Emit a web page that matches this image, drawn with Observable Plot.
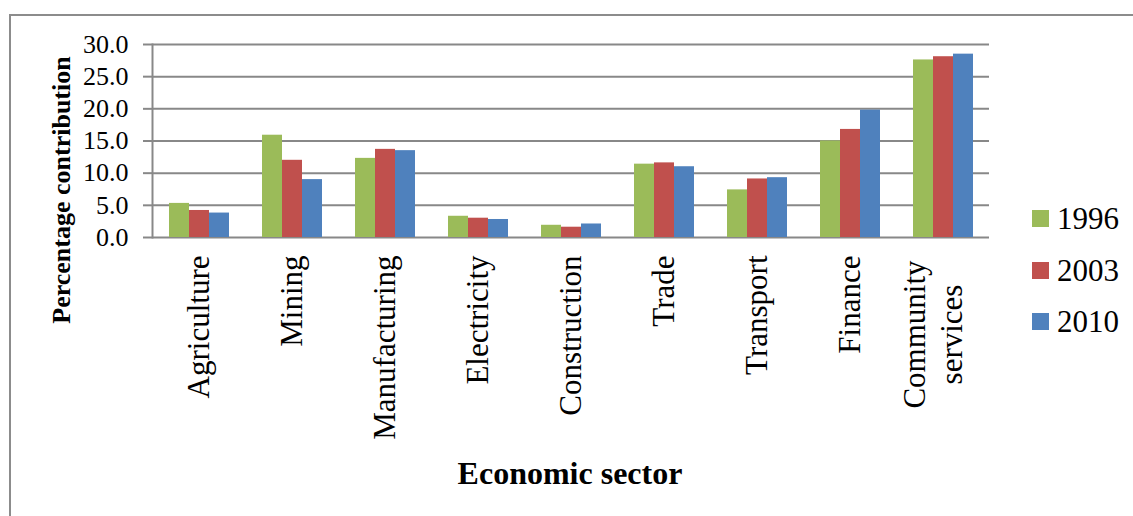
<!DOCTYPE html>
<html>
<head>
<meta charset="utf-8">
<script src="https://cdn.jsdelivr.net/npm/d3@7"></script>
<script src="https://cdn.jsdelivr.net/npm/@observablehq/plot@0.6"></script>
<style>
  html, body { margin: 0; padding: 0; background: #fff; }
  #wrap { position: relative; width: 1133px; height: 516px; overflow: hidden; font-family: "Liberation Serif", "Times New Roman", serif; }
  #border { position: absolute; left: 9px; top: 14px; right: -10px; bottom: -10px; border-left: 2px solid #8c8c8c; border-top: 2px solid #8c8c8c; }
  #chart { position: absolute; left: 0; top: 0; }
  .ytitle { position: absolute; left: 62px; top: 190px; transform: translate(-50%, -50%) rotate(-90deg); font-weight: bold; font-size: 26px; white-space: nowrap; color: #000; }
  .xtitle { position: absolute; left: 570px; top: 455px; transform: translateX(-50%); font-weight: bold; font-size: 32px; white-space: nowrap; color: #000; }
  #legend { position: absolute; left: 1032px; top: 193px; }
  .row { position: relative; height: 51.5px; line-height: 51.5px; font-size: 31px; color: #000; white-space: nowrap; font-family: "Liberation Serif", serif; }
  .sw { position: absolute; left: 0; top: 17px; width: 17px; height: 17px; }
  .lab { position: absolute; left: 25px; top: 0; }
</style>
</head>
<body>
<div id="wrap">
  <div id="border"></div>
  <div id="chart"></div>
  <div class="ytitle">Percentage contribution</div>
  <div class="xtitle">Economic sector</div>
  <div id="legend"></div>
</div>
<script>
const sectors = ["Agriculture", "Mining", "Manufacturing", "Electricity", "Construction", "Trade", "Transport", "Finance", "Community services"];
const sectorLabels = ["Agriculture", "Mining", "Manufacturing", "Electricity", "Construction", "Trade", "Transport", "Finance", "Community\nservices"];
const years = ["1996", "2003", "2010"];
const values1996 = [5.3, 15.9, 12.3, 3.3, 1.9, 11.4, 7.4, 15.0, 27.6];
const values2003 = [4.2, 12.0, 13.7, 3.0, 1.6, 11.6, 9.1, 16.8, 28.1];
const values2010 = [3.8, 9.0, 13.5, 2.8, 2.1, 11.0, 9.3, 19.8, 28.5];
const yTicks = [0, 5, 10, 15, 20, 25, 30];
const colors = ["#9BBB59", "#C0504D", "#4F81BD"];

const seriesValues = [values1996, values2003, values2010];
const data = [];
sectors.forEach((s, i) => {
  years.forEach((y, j) => data.push({sector: s, year: y, value: seriesValues[j][i]}));
});
const labelRows = sectors.map((s, i) => ({sector: s, label: sectorLabels[i]}));

const gridColor = "#888888";
const font = "Liberation Serif";

const chart = Plot.plot({
  width: 1133,
  height: 516,
  marginLeft: 152,
  marginRight: 144,
  marginTop: 44,
  marginBottom: 279,
  style: {fontFamily: font, background: "transparent", color: "#000"},
  fx: {domain: sectors, padding: 0, axis: null, label: null},
  x: {domain: years, paddingInner: 0, paddingOuter: 0.75, axis: null, label: null},
  y: {domain: [0, 30], label: null},
  color: {domain: years, range: colors},
  marks: [
    Plot.ruleY(yTicks, {stroke: gridColor, strokeWidth: 2}),
    Plot.barY(data, {fx: "sector", x: "year", y: "value", fill: "year"}),
    Plot.axisY(yTicks, {tickSize: 9, tickPadding: 15, stroke: gridColor, strokeWidth: 2, fill: "#000", fontSize: 26, fontFamily: font, tickFormat: d3.format(".1f"), label: null}),
    Plot.frame({anchor: "left", facetAnchor: "left", stroke: gridColor, strokeWidth: 2}),
    Plot.text(labelRows.filter(d => !d.label.includes("\n")), {fx: "sector", text: "label", frameAnchor: "bottom", rotate: -90, textAnchor: "end", dx: 10, dy: 18, fontSize: 31, fontFamily: font, fill: "#000"}),
    Plot.text(labelRows.filter(d => d.label.includes("\n")), {fx: "sector", text: "label", frameAnchor: "bottom", rotate: -90, textAnchor: "middle", lineHeight: 1.2, dx: 19, dy: 97, fontSize: 31, fontFamily: font, fill: "#000"})
  ]
});
document.getElementById("chart").appendChild(chart);

const legend = document.getElementById("legend");
years.forEach((y, j) => {
  const row = document.createElement("div");
  row.className = "row";
  const sw = document.createElement("div");
  sw.className = "sw";
  sw.style.background = colors[j];
  const lab = document.createElement("div");
  lab.className = "lab";
  lab.textContent = y;
  row.appendChild(sw);
  row.appendChild(lab);
  legend.appendChild(row);
});
</script>
</body>
</html>
